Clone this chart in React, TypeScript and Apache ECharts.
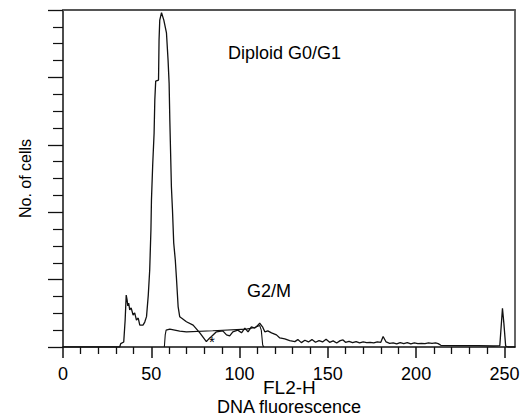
import React, { useEffect, useRef } from "react";
import * as echarts from "echarts";

// Flow cytometry DNA histogram (FL2-H channel)
const histX = [0, 32.1, 32.7, 34.4, 35.2, 35.8, 36.3, 36.7, 37.2, 37.8, 38.6, 39.7, 40.6, 41.6, 42.6, 43.5, 45.3, 46.3, 47.3, 48.3, 49.1, 49.8, 50.1, 50.8, 51.6, 52.0, 52.5, 54.1, 54.4, 54.8, 55.8, 57.1, 58.6, 59.5, 60.1, 60.5, 60.9, 61.4, 62.0, 62.7, 63.6, 64.2, 65.2, 66.1, 67.1, 69.9, 73.7, 77.5, 81.2, 83.1, 84.1, 86.9, 90.5, 92.6, 94.4, 96.2, 99.0, 101.1, 103.0, 104.8, 106.7, 108.6, 110.5, 111.4, 113.0, 114.3, 116.0, 118.1, 120.9, 122.8, 125.6, 128.4, 131.3, 133, 135, 137, 139, 141, 143, 145, 147, 149, 151, 153, 155, 157, 158.6, 160, 162, 164, 166, 168, 170, 172, 174, 176, 178, 180, 181.3, 183, 185, 187, 189, 191, 193, 195, 197, 199, 201, 203, 205, 207, 209, 211, 212.5, 214, 225, 235, 244, 247.4, 248.9, 249.7, 250.7, 252, 256];
const histY = [0, 0, 1.0, 1.5, 8.0, 15.4, 14.0, 12.2, 13.0, 11.0, 11.6, 9.5, 10.1, 8.0, 8.6, 6.5, 6.5, 7.4, 9.0, 15.4, 22.8, 34.7, 43.6, 54.0, 63.5, 73.3, 78.9, 79.2, 91.1, 97.0, 99.2, 97.0, 93.2, 85.2, 78.3, 67.4, 58.5, 47.5, 40.7, 30.9, 25.8, 20.9, 12.0, 9.0, 8.6, 7.5, 6.5, 4.2, 1.6, 2.7, 3.1, 4.5, 4.8, 3.6, 3.3, 4.5, 5.0, 4.2, 5.6, 4.5, 6.0, 5.6, 6.5, 7.1, 6.0, 4.5, 4.8, 4.2, 3.6, 2.7, 2.4, 1.9, 1.6, 2.2, 1.3, 2.0, 1.5, 2.2, 1.4, 1.9, 1.5, 2.3, 1.4, 1.8, 1.2, 1.9, 2.1, 1.4, 1.7, 1.3, 1.6, 1.2, 1.5, 1.3, 1.4, 1.2, 1.5, 1.4, 3.1, 1.5, 1.1, 1.2, 0.9, 1.3, 1.0, 1.3, 0.9, 1.2, 1.0, 1.1, 1.0, 1.2, 1.1, 1.2, 1.0, 0.5, 0.4, 0.4, 0.3, 0.4, 11.5, 7.0, 0.3, 0, 0];

// Modelled G2/M component
const fitX = [57.4, 57.9, 58.4, 60.5, 66.1, 69.9, 84.8, 103.9, 108.6, 111.4, 112.3, 113.1, 113.7];
const fitY = [0, 3.6, 5.0, 5.3, 4.7, 4.5, 4.8, 5.3, 5.8, 6.4, 5.0, 0.6, 0];

const xTickValues = [0, 50, 100, 150, 200, 250];
const yAxisTitle = "No. of cells";
const xAxisTitle = "DNA fluorescence";
const channelLabel = "FL2-H";
const peakLabels = ["Diploid G0/G1", "G2/M"];
const markerLabel = "*";

const FONT = "'Liberation Sans', Arial, Helvetica, sans-serif";

export default function App() {
  const ref = useRef<HTMLDivElement>(null);
  useEffect(() => {
    if (!ref.current) return;
    const chart = echarts.init(ref.current, null, { renderer: "svg" });
    const hist = histX.map((v, i) => [v, histY[i]]);
    const fit = fitX.map((v, i) => [v, fitY[i]]);
    chart.setOption({
      animation: false,
      backgroundColor: "#ffffff",
      textStyle: { fontFamily: FONT, color: "#000" },
      grid: { left: 63, right: 15, top: 10, bottom: 73, outerBoundsMode: "none", containLabel: false },
      xAxis: [
        {
          type: "value",
          position: "bottom",
          min: 0,
          max: 256,
          interval: 50,
          axisLine: { show: true, onZero: false, lineStyle: { color: "#111", width: 1.5 } },
          axisTick: { show: true, length: 11, lineStyle: { color: "#111", width: 1.5 }, customValues: xTickValues },
          minorTick: { show: true, splitNumber: 5, length: 7, lineStyle: { color: "#111", width: 1.3 } },
          axisLabel: { show: true, customValues: xTickValues, margin: 18, fontSize: 18, color: "#000", fontFamily: FONT },
          splitLine: { show: false },
          name: xAxisTitle,
          nameLocation: "middle",
          nameGap: 51,
          nameTextStyle: { fontSize: 18, color: "#000", fontFamily: FONT },
        },
        {
          type: "value",
          position: "top",
          min: 0,
          max: 256,
          axisLine: { show: true, onZero: false, lineStyle: { color: "#555", width: 2 } },
          axisTick: { show: false },
          axisLabel: { show: false },
          splitLine: { show: false },
        },
      ],
      yAxis: [
        {
          type: "value",
          position: "left",
          min: 0,
          max: 100,
          interval: 20,
          axisLine: { show: true, onZero: false, lineStyle: { color: "#111", width: 1.5 } },
          axisTick: { show: true, length: 15, lineStyle: { color: "#111", width: 1.3 } },
          minorTick: { show: true, splitNumber: 4, length: 10, lineStyle: { color: "#111", width: 1.2 } },
          axisLabel: { show: false },
          splitLine: { show: false },
          name: yAxisTitle,
          nameLocation: "middle",
          nameRotate: 90,
          nameGap: 30,
          nameTextStyle: { fontSize: 16, color: "#000", fontFamily: FONT },
        },
        {
          type: "value",
          position: "right",
          min: 0,
          max: 100,
          axisLine: { show: true, onZero: false, lineStyle: { color: "#333", width: 1.5 } },
          axisTick: { show: false },
          axisLabel: { show: false },
          splitLine: { show: false },
        },
      ],
      series: [
        {
          type: "line",
          name: "Histogram",
          xAxisIndex: 0,
          yAxisIndex: 0,
          data: hist,
          showSymbol: false,
          symbol: "none",
          lineStyle: { color: "#111", width: 1.3 },
          z: 3,
        },
        {
          type: "line",
          name: "G2/M fit",
          xAxisIndex: 0,
          yAxisIndex: 0,
          data: fit,
          showSymbol: false,
          symbol: "none",
          lineStyle: { color: "#111", width: 1.1 },
          z: 2,
        },
      ],
      graphic: [
        { type: "text", left: 228, top: 44, style: { text: peakLabels[0], font: `18px ${FONT}`, fill: "#000" } },
        { type: "text", left: 247, top: 282, style: { text: peakLabels[1], font: `18px ${FONT}`, fill: "#000" } },
        { type: "text", left: 263, top: 378, style: { text: channelLabel, font: `19px ${FONT}`, fill: "#000" } },
        { type: "text", left: 209, top: 334, style: { text: markerLabel, font: `15px ${FONT}`, fill: "#000" } },
      ],
    });
    return () => chart.dispose();
  }, []);
  return <div ref={ref} style={{ position: "absolute", left: 0, top: 0, width: 530, height: 420 }} />;
}
